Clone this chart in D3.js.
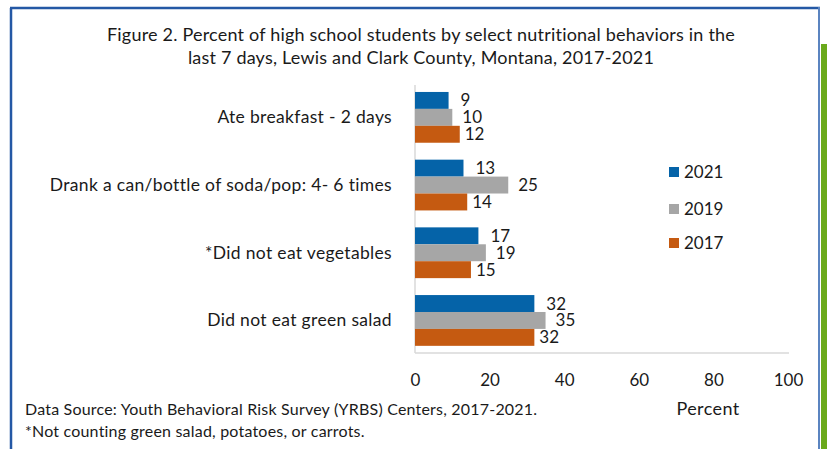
<!DOCTYPE html>
<html>
<head>
<meta charset="utf-8">
<script src="https://cdn.jsdelivr.net/npm/d3@7"></script>
<style>
html,body{margin:0;padding:0;background:#fff;}
svg{display:block;font-family:Lato,"Open Sans",sans-serif;}
</style>
</head>
<body>
<svg id="chart" width="827" height="449"></svg>
<script>
const categories = [
  "Ate breakfast - 2 days",
  "Drank a can/bottle of soda/pop: 4- 6 times",
  "*Did not eat vegetables",
  "Did not eat green salad"
];
const seriesNames = ["2021", "2019", "2017"];
const values2021 = [9, 13, 17, 32];
const values2019 = [10, 25, 19, 35];
const values2017 = [12, 14, 15, 32];
const xTicks = [0, 20, 40, 60, 80, 100];
const titleLines = [
  "Figure 2. Percent of high school students by select nutritional behaviors in the",
  "last 7 days, Lewis and Clark County, Montana, 2017-2021"
];
const footnotes = [
  "Data Source: Youth Behavioral Risk Survey (YRBS) Centers, 2017-2021.",
  "*Not counting green salad, potatoes, or carrots."
];
const xTitle = "Percent";

const seriesValues = [values2021, values2019, values2017];
const colors = ["#0563a8", "#a6a6a6", "#c55a11"];
const labelGap = [12, 10, 5];

const svg = d3.select("#chart");

// frame
svg.append("line").attr("x1", 11).attr("x2", 11).attr("y1", 8).attr("y2", 449)
  .attr("stroke", "#2458a5").attr("stroke-width", 2.5);
svg.append("line").attr("x1", 10).attr("x2", 820).attr("y1", 8).attr("y2", 8)
  .attr("stroke", "#2458a5").attr("stroke-width", 2.5);
svg.append("line").attr("x1", 819).attr("x2", 819).attr("y1", 7).attr("y2", 449)
  .attr("stroke", "#5b84c0").attr("stroke-width", 2);
svg.append("rect").attr("x", 821).attr("y", 44).attr("width", 6).attr("height", 405)
  .attr("fill", "#6aa91b");

// title
svg.append("g").selectAll("text").data(titleLines).join("text")
  .attr("x", 421).attr("y", (d, i) => 41 + i * 23)
  .attr("text-anchor", "middle").attr("font-size", 18).attr("letter-spacing", 0.2)
  .attr("fill", "#1a1a1a")
  .text(d => d);

const x = d3.scaleLinear().domain([0, 100]).range([415, 788]);
const y = d3.scaleBand().domain(categories).range([83.5, 354.3])
  .paddingInner(0.25).paddingOuter(0.125);
const ySub = d3.scaleBand().domain(seriesNames).range([0, y.bandwidth()]);

// axis lines
svg.append("line").attr("x1", 415).attr("x2", 789).attr("y1", 353).attr("y2", 353)
  .attr("stroke", "#d9d9d9").attr("stroke-width", 1.5);
svg.append("line").attr("x1", 415).attr("x2", 415).attr("y1", 85).attr("y2", 353)
  .attr("stroke", "#d9d9d9").attr("stroke-width", 1.5);

// x tick labels via axis
const xAxis = d3.axisBottom(x).tickValues(xTicks).tickSize(0).tickPadding(0);
const gx = svg.append("g").attr("transform", "translate(0,386)").call(xAxis);
gx.select(".domain").remove();
gx.selectAll("text").attr("font-size", 17).attr("fill", "#1a1a1a")
  .attr("font-family", "Lato,'Open Sans',sans-serif").attr("dy", 0);

// category labels
svg.append("g").selectAll("text").data(categories).join("text")
  .attr("x", 392).attr("y", d => y(d) + y.bandwidth() / 2 + 6)
  .attr("text-anchor", "end").attr("font-size", 17.5).attr("letter-spacing", 0.33)
  .attr("fill", "#1a1a1a")
  .text(d => d);

// bars
seriesNames.forEach((s, si) => {
  const g = svg.append("g");
  g.selectAll("rect").data(categories).join("rect")
    .attr("x", x(0)).attr("y", (d) => y(d) + ySub(s))
    .attr("width", (d, i) => x(seriesValues[si][i]) - x(0))
    .attr("height", ySub.bandwidth())
    .attr("fill", colors[si]);
  g.selectAll("text").data(categories).join("text")
    .attr("x", (d, i) => x(seriesValues[si][i]) + labelGap[si])
    .attr("y", (d) => y(d) + ySub(s) + ySub.bandwidth() / 2 + 6)
    .attr("font-size", 17).attr("fill", "#1a1a1a")
    .text((d, i) => seriesValues[si][i]);
});

// legend
const legendY = [172, 209, 243];
const lg = svg.append("g").selectAll("g").data(seriesNames).join("g")
  .attr("transform", (d, i) => `translate(669,${legendY[i]})`);
lg.append("rect").attr("x", 0).attr("y", -5).attr("width", 10).attr("height", 10)
  .attr("fill", (d, i) => colors[i]);
lg.append("text").attr("x", 15).attr("y", 6).attr("font-size", 17).attr("fill", "#1a1a1a")
  .text(d => d);

// x title
svg.append("text").attr("x", 708).attr("y", 415).attr("text-anchor", "middle")
  .attr("font-size", 18).attr("letter-spacing", 0.4).attr("fill", "#1a1a1a").text(xTitle);

// footnotes
svg.append("g").selectAll("text").data(footnotes).join("text")
  .attr("x", 25).attr("y", (d, i) => 415 + i * 22)
  .attr("font-size", 16).attr("letter-spacing", 0.2).attr("fill", "#1a1a1a").text(d => d);
</script>
</body>
</html>
